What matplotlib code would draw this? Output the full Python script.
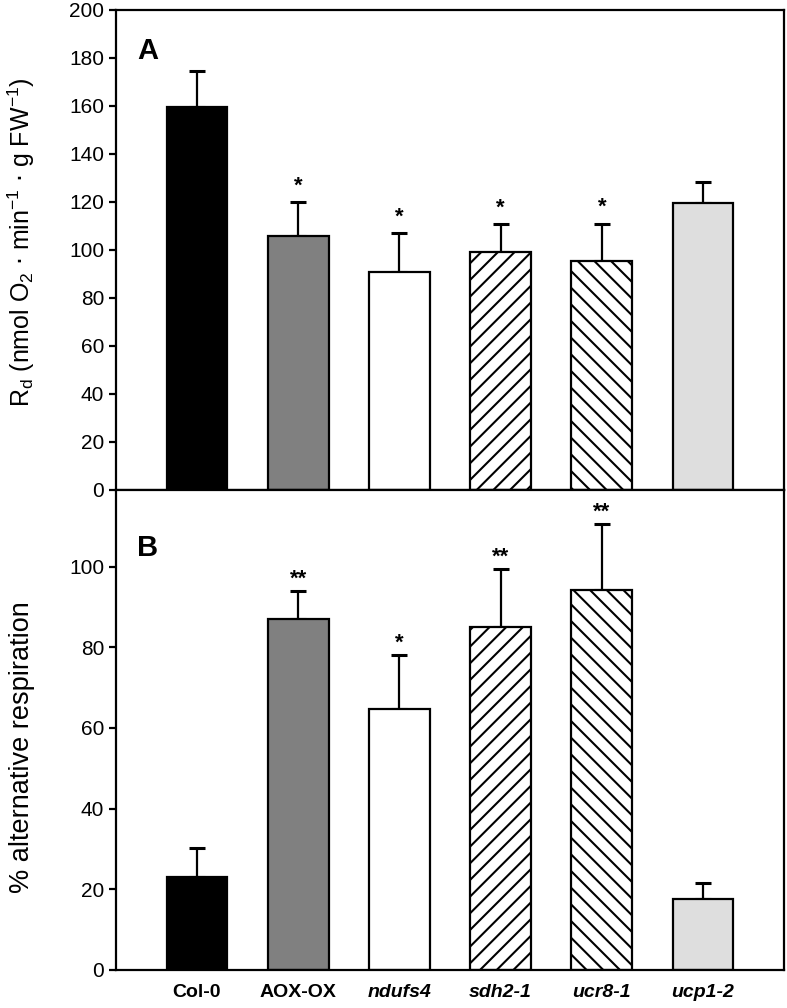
""" Two-panel bar chart: dark respiration and % alternative respiration """

import numpy as np
import matplotlib.pyplot as plt

plt.rcParams['font.family'] = ['Liberation Sans', 'DejaVu Sans']
plt.rcParams['hatch.linewidth'] = 1.5
plt.rcParams['hatch.color'] = 'black'

# Data
categories = ['Col-0', 'AOX-OX', 'ndufs4', 'sdh2-1', 'ucr8-1', 'ucp1-2']
italic_label = [False, False, True, True, True, True]
rd_mean = [159.5, 106.0, 91.0, 99.0, 95.5, 119.5]
rd_se = [15.0, 14.0, 16.0, 11.8, 15.5, 9.0]
alt_mean = [23.0, 87.0, 64.7, 85.0, 94.3, 17.7]
alt_se = [7.2, 7.0, 13.3, 14.3, 16.3, 3.8]
sig_a = ['', '*', '*', '*', '*', '']
sig_b = ['', '**', '*', '**', '**', '']

colors = ['black', '#808080', 'white', 'white', 'white', '#dedede']
hatches = [None, None, None, '//', '\\\\', None]

fig = plt.figure(figsize=(7.87, 10.08), dpi=100)
ax_a = fig.add_axes([0.1474, 0.5139, 0.8488, 0.4762])
ax_b = fig.add_axes([0.1474, 0.0377, 0.8488, 0.4762])

x = np.arange(len(categories))


def draw_panel(ax, means, errs, sig, star_offset):
    for i in range(len(x)):
        ax.bar(x[i], means[i], width=0.6, color=colors[i], edgecolor='black',
               linewidth=1.6, hatch=hatches[i], zorder=2)
    ax.errorbar(x, means, yerr=[np.zeros(len(x)), errs], fmt='none',
                ecolor='black', elinewidth=1.6, capsize=6, capthick=2.2, zorder=1)
    for i, s in enumerate(sig):
        if s:
            ax.annotate(s, (x[i], means[i] + errs[i]), xytext=(0, star_offset),
                        textcoords='offset points', ha='center', va='bottom',
                        fontsize=16, fontweight='bold')
    ax.set_xlim(-0.8, 5.8)
    for sp in ax.spines.values():
        sp.set_linewidth(1.6)
    ax.tick_params(axis='y', direction='out', length=5, width=1.6, labelsize=15)
    ax.tick_params(axis='x', length=0)


draw_panel(ax_a, rd_mean, rd_se, sig_a, 4)
ax_a.set_ylim(0, 200)
ax_a.set_yticks(np.arange(0, 201, 20))
ax_a.set_xticks(x)
ax_a.set_xticklabels([])
ax_a.set_ylabel(r'R$_\mathregular{d}$ (nmol O$_\mathregular{2}$ $\cdot$ min$^\mathregular{-1}$'
                r' $\cdot$ g FW$^\mathregular{-1}$)', fontsize=18)
ax_a.yaxis.set_label_coords(-0.118, 0.517)
ax_a.text(0.032, 0.915, 'A', transform=ax_a.transAxes, fontsize=21,
          fontweight='bold', va='center')

draw_panel(ax_b, alt_mean, alt_se, sig_b, 1)
ax_b.set_ylim(0, 119)
ax_b.set_yticks(np.arange(0, 101, 20))
ax_b.set_xticks(x)
ax_b.set_xticklabels(categories, fontsize=14, fontweight='bold')
for lab, it in zip(ax_b.get_xticklabels(), italic_label):
    if it:
        lab.set_fontstyle('italic')
ax_b.tick_params(axis='x', pad=10)
ax_b.set_ylabel('% alternative respiration', fontsize=19.5)
ax_b.yaxis.set_label_coords(-0.122, 0.465)
ax_b.text(0.032, 0.88, 'B', transform=ax_b.transAxes, fontsize=21,
          fontweight='bold', va='center')

fig.savefig('out.png', dpi=100)
